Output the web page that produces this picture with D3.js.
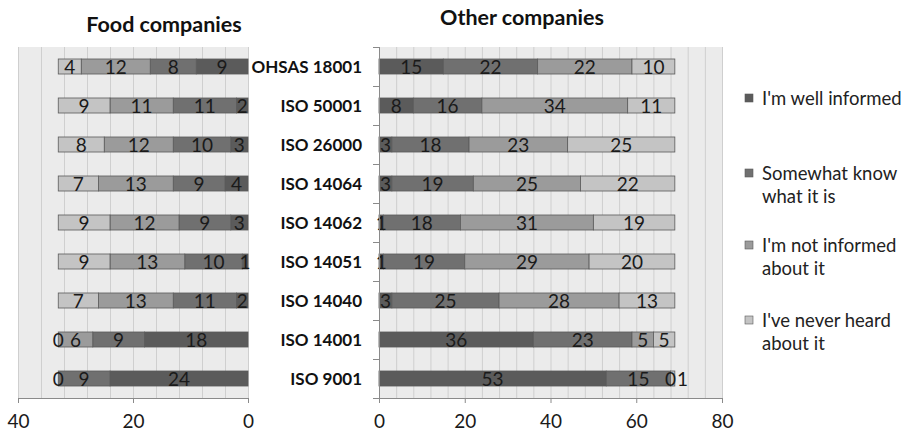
<!DOCTYPE html>
<html>
<head>
<meta charset="utf-8">
<script src="https://cdn.jsdelivr.net/npm/d3@7"></script>
<style>
  body { margin: 0; background: #fff; }
  svg { display: block; font-family: Lato, "Open Sans", sans-serif; }
</style>
</head>
<body>
<svg id="chart" width="907" height="435"></svg>
<script>
// dados
const categorias = ["OHSAS 18001", "ISO 50001", "ISO 26000", "ISO 14064", "ISO 14062",
  "ISO 14051", "ISO 14040", "ISO 14001", "ISO 9001"];

const series = ["I'm well informed", "Somewhat know what it is", "I'm not informed about it", "I've never heard about it"];

const foodWell     = [9, 2, 3, 4, 3, 1, 2, 18, 24];
const foodSomewhat = [8, 11, 10, 9, 9, 10, 11, 9, 9];
const foodNot      = [12, 11, 12, 13, 12, 13, 13, 6, 0];
const foodNever    = [4, 9, 8, 7, 9, 9, 7, 0, 0];

const otherWell     = [15, 8, 3, 3, 1, 1, 3, 36, 53];
const otherSomewhat = [22, 16, 18, 19, 18, 19, 25, 23, 15];
const otherNot      = [22, 34, 23, 25, 31, 29, 28, 5, 0];
const otherNever    = [10, 11, 25, 22, 19, 20, 13, 5, 1];

const foodTicks = [40, 20, 0];
const otherTicks = [0, 20, 40, 60, 80];

const cores = ["#5b5b5b", "#707070", "#9b9b9b", "#c4c4c4"];
const legendaLinhas = [["I'm well informed"], ["Somewhat know", "what it is"], ["I'm not informed", "about it"], ["I've never heard", "about it"]];

const svg = d3.select("#chart");
const plotTop = 47, plotBottom = 398;

const y = d3.scaleBand().domain(categorias).range([plotTop, plotBottom]).paddingInner(0.615).paddingOuter(0.3075);

function tabela(arrs) {
  return categorias.map((c, i) => {
    const o = { cat: c };
    series.forEach((s, j) => o[s] = arrs[j][i]);
    return o;
  });
}

function painel(dados, x, gridMax, ticks, eixoY) {
  const g = svg.append("g");
  const [r0, r1] = x.range();
  const xmin = Math.min(r0, r1), xmax = Math.max(r0, r1);

  g.append("rect").attr("x", xmin).attr("y", plotTop).attr("width", xmax - xmin).attr("height", plotBottom - plotTop)
    .attr("fill", "#ebebeb");

  g.selectAll("line.grid").data(d3.range(0, gridMax + 1, 4)).join("line")
    .attr("class", "grid")
    .attr("x1", d => x(d) + 0.5).attr("x2", d => x(d) + 0.5)
    .attr("y1", plotTop).attr("y2", plotBottom)
    .attr("stroke", "#cfcfcf").attr("stroke-width", 1);

  const stack = d3.stack().keys(series)(tabela(dados));

  stack.forEach((camada, j) => {
    g.append("g").selectAll("rect").data(camada).join("rect")
      .attr("x", d => Math.min(x(d[0]), x(d[1])))
      .attr("y", d => y(d.data.cat))
      .attr("width", d => Math.abs(x(d[1]) - x(d[0])))
      .attr("height", y.bandwidth())
      .attr("fill", cores[j])
      .attr("stroke", "#5a5a5a").attr("stroke-width", 0.8);
  });

  // rótulos dos segmentos (afasta os que se sobrepõem, não repete os iguais)
  categorias.forEach((c, i) => {
    let ant = null;
    stack.forEach(camada => {
      const d = camada[i];
      const v = d[1] - d[0];
      let cx = x((d[0] + d[1]) / 2);
      if (ant && ant.v === v && Math.abs(cx - ant.cx) < 1) return;
      if (ant && Math.abs(cx - ant.cx) < 8) cx = ant.cx + (x(1) - x(0) > 0 ? 12 : -12);
      g.append("text")
        .attr("x", cx).attr("y", y(c) + y.bandwidth() / 2 + 7)
        .attr("text-anchor", "middle")
        .attr("font-size", 19).attr("fill", "#1a1a1a")
        .text(v);
      ant = { cx, v };
    });
  });

  const eixo = g.append("g").attr("transform", `translate(0,${plotBottom})`)
    .call(d3.axisBottom(x).tickValues(ticks).tickSize(5).tickPadding(12).tickSizeOuter(0));
  eixo.select(".domain").attr("stroke", "#8a8a8a");
  eixo.selectAll(".tick line").attr("stroke", "#8a8a8a");
  eixo.selectAll(".tick text").attr("font-size", 19).attr("fill", "#1a1a1a")
    .attr("font-family", "Lato, 'Open Sans', sans-serif");

  if (eixoY) {
    const ey = g.append("g").attr("transform", `translate(${xmin},0)`);
    ey.append("line").attr("x1", 0.5).attr("x2", 0.5).attr("y1", plotTop).attr("y2", plotBottom).attr("stroke", "#8a8a8a");
    const passo = (plotBottom - plotTop) / categorias.length;
    ey.selectAll("line.tk").data(d3.range(categorias.length + 1)).join("line")
      .attr("class", "tk")
      .attr("x1", -6).attr("x2", 0)
      .attr("y1", d => plotTop + d * passo + 0.5).attr("y2", d => plotTop + d * passo + 0.5)
      .attr("stroke", "#8a8a8a");
    ey.selectAll("text").data(categorias).join("text")
      .attr("x", -17).attr("y", d => y(d) + y.bandwidth() / 2 + 6.5)
      .attr("text-anchor", "end").attr("font-size", 17).attr("font-weight", "bold").attr("fill", "#111")
      .text(d => d);
  }
}

const xFood = d3.scaleLinear().domain([40, 0]).range([18, 248]);
const xOther = d3.scaleLinear().domain([0, 80]).range([379, 722]);

painel([foodWell, foodSomewhat, foodNot, foodNever], xFood, 40, foodTicks, false);
painel([otherWell, otherSomewhat, otherNot, otherNever], xOther, 80, otherTicks, true);

svg.append("text").attr("x", 164).attr("y", 32).attr("text-anchor", "middle")
  .attr("font-size", 21.5).attr("font-weight", "bold").attr("fill", "#111").text("Food companies");
svg.append("text").attr("x", 522).attr("y", 25).attr("text-anchor", "middle")
  .attr("font-size", 21.5).attr("font-weight", "bold").attr("fill", "#111").text("Other companies");

// legenda
const legY = [98, 173, 245, 320];
const leg = svg.append("g");
legendaLinhas.forEach((linhas, i) => {
  leg.append("rect").attr("x", 745).attr("y", legY[i] - 4).attr("width", 8).attr("height", 8)
    .attr("fill", cores[i]).attr("stroke", "#5a5a5a").attr("stroke-width", 0.6);
  linhas.forEach((t, k) => {
    leg.append("text").attr("x", 762).attr("y", legY[i] + 6.5 + k * 23)
      .attr("font-size", 18.5).attr("fill", "#222").text(t);
  });
});
</script>
</body>
</html>
